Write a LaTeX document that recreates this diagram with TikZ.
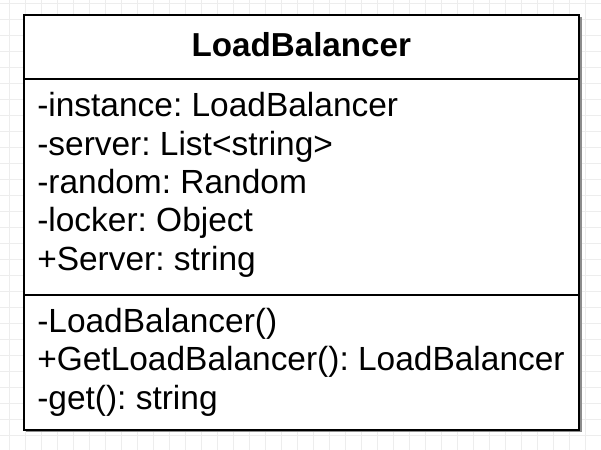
\documentclass[tikz,border=0pt]{standalone}
\usepackage{fontspec}
\setmainfont{Liberation Sans}
\frenchspacing
\begin{document}
\begin{tikzpicture}[x=0.75pt,y=-0.75pt,
  gridline/.style={draw=black!7,line width=0.75pt},
  umlbox/.style={draw=black,line width=1.5pt,fill=white},
  umlshadow/.style={fill=black!45},
  sepline/.style={draw=black,line width=1.5pt},
  member/.style={anchor=base west,inner sep=0pt,font=\fontsize{25.1pt}{28.7pt}\selectfont},
  titletext/.style={anchor=base,inner sep=0pt,font=\fontsize{24.9pt}{28.7pt}\selectfont\bfseries}]
\useasboundingbox (0,0) rectangle (601,450);
\fill[white] (0,0) rectangle (601,450);
\foreach \gx in {9,25,...,601} \draw[gridline] (\gx,0) -- (\gx,450);
\foreach \gy in {3,19,...,450} \draw[gridline] (0,\gy) -- (601,\gy);
% shadow and box
\fill[umlshadow] (25.5,16.5) rectangle (581.5,431.5);
\node[umlbox,minimum width=555*0.75pt,minimum height=415*0.75pt,anchor=north west,inner sep=0pt] (box) at (23,14) {};
\coordinate (s1l) at (23,78.5);
\coordinate (s1r) at (578,78.5);
\coordinate (s2l) at (23,295);
\coordinate (s2r) at (578,295);
\draw[sepline] (s1l) -- (s1r);
\draw[sepline] (s2l) -- (s2r);
% title
\node[titletext] (title) at (301.3,56.7) {LoadBalancer};
% attributes
\node[member] (a1) at (37,116.7) {-instance: LoadBalancer};
\node[member] (a2) at (37,155) {-server: List<string>};
\node[member] (a3) at (37,193.3) {-random: Random};
\node[member] (a4) at (37,231.6) {-locker: Object};
\node[member] (a5) at (37,270) {+Server: string};
% methods
\node[member] (m1) at (37,332.3) {-LoadBalancer()};
\node[member] (m2) at (37,370.6) {+GetLoadBalancer(): LoadBalancer};
\node[member] (m3) at (37,409) {-get(): string};
\end{tikzpicture}
\end{document}
